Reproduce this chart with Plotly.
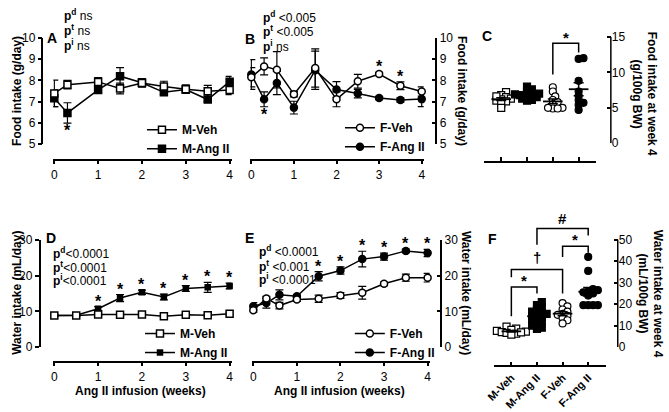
import numpy as np
import plotly.graph_objects as go

# ---------------- data ----------------
weeks_A = [0, 0.3, 1, 1.5, 2, 2.5, 3, 3.5, 4]
food_m_veh = [7.39, 7.80, 7.93, 7.62, 7.88, 7.71, 7.59, 7.49, 7.55]
food_m_veh_sem = [0.62, 0.20, 0.20, 0.25, 0.20, 0.25, 0.20, 0.28, 0.22]
food_m_ang = [7.16, 6.47, 7.55, 8.20, 7.89, 7.44, 7.57, 7.10, 7.94]
food_m_ang_sem = [0.40, 0.48, 0.10, 0.40, 0.15, 0.10, 0.10, 0.10, 0.25]

weeks_B = [0, 0.3, 0.6, 1, 1.5, 2, 2.5, 3, 3.5, 4]
food_f_veh = [8.15, 8.66, 8.50, 7.35, 8.58, 7.11, 7.96, 8.30, 7.75, 7.48]
food_f_veh_sem = [0.45, 0.40, 0.85, 0.12, 0.90, 0.35, 0.32, 0.08, 0.18, 0.22]
food_f_ang = [8.28, 7.11, 7.88, 6.72, 8.48, 7.57, 7.38, 7.17, 7.08, 7.12]
food_f_ang_sem = [0.70, 0.35, 0.55, 0.30, 0.90, 0.37, 0.20, 0.08, 0.10, 0.35]

groups = ["M-Veh", "M-Ang II", "F-Veh", "F-Ang II"]
food_w4_m_veh = [7.2, 6.8, 6.5, 6.3, 6.2, 6.0, 5.9, 5.6, 5.0, 6.6]
food_w4_m_ang = [8.0, 7.6, 7.3, 7.0, 6.8, 6.6, 6.5, 6.3, 6.1, 6.0, 6.7, 6.9]
food_w4_f_veh = [7.9, 7.3, 6.6, 6.1, 5.8, 5.5, 5.0, 4.9, 4.9, 5.0]
food_w4_f_ang = [12.0, 11.9, 8.8, 7.3, 6.7, 6.1, 5.7, 5.4, 4.7]

weeks_D = [0, 0.5, 1, 1.5, 2, 2.5, 3, 3.5, 4]
water_m_veh = [8.8, 8.8, 9.1, 9.0, 9.1, 8.6, 9.0, 8.9, 9.3]
water_m_veh_sem = [0.3, 0.3, 0.3, 0.3, 0.3, 0.3, 0.3, 0.3, 0.4]
water_m_ang = [8.8, 8.9, 10.7, 13.7, 15.3, 14.0, 16.4, 16.7, 17.1]
water_m_ang_sem = [0.3, 0.3, 0.6, 1.0, 0.6, 0.8, 0.8, 1.4, 0.8]

weeks_E = [0, 0.3, 0.6, 1, 1.5, 2, 2.5, 3, 3.5, 4]
water_f_veh = [10.3, 13.6, 11.6, 13.3, 13.5, 14.4, 15.2, 17.7, 19.4, 19.4]
water_f_veh_sem = [0.6, 0.6, 0.9, 0.5, 1.0, 0.8, 1.8, 0.5, 1.0, 1.2]
water_f_ang = [11.4, 12.3, 14.6, 14.2, 19.8, 21.4, 24.6, 25.3, 26.9, 26.3]
water_f_ang_sem = [1.0, 1.4, 1.4, 0.3, 1.3, 1.0, 2.2, 1.0, 0.5, 1.0]

water_w4_m_veh = [9.5, 8.6, 8.0, 7.5, 7.0, 6.6, 6.2, 5.8, 7.2, 6.8]
water_w4_m_ang = [21.0, 19.5, 18.5, 17.5, 16.5, 16.0, 15.5, 15.0, 14.5, 14.0,
                  13.0, 12.5, 12.0, 11.0, 10.0, 9.0, 8.5]
water_w4_f_veh = [20.5, 19.0, 17.5, 16.5, 15.5, 15.0, 14.5, 13.5, 12.5, 11.0]
water_w4_f_ang = [42.0, 35.5, 27.0, 26.5, 26.0, 25.5, 25.0, 24.0, 19.5, 19.5, 19.5, 19.5]

week_ticks = [0, 1, 2, 3, 4]
food_ticks = [5, 6, 7, 8, 9, 10]
food_w4_ticks = [0, 5, 10, 15]
water_ticks = [0, 10, 20, 30]
water_w4_ticks = [0, 10, 20, 30, 40, 50]

p_A = [("d", " ns"), ("t", " ns"), ("i", " ns")]
p_B = [("d", " &lt;0.005"), ("t", " &lt;0.005"), ("i", " ns")]
p_D = [("d", "&lt;0.0001"), ("t", "&lt;0.0001"), ("i", "&lt;0.0001")]
p_E = [("d", " &lt;0.0001"), ("t", " &lt;0.001"), ("i", " &lt;0.0001")]

# significance marks: (series, index, side)
stars_A = [("ang", 1, "below")]
stars_B = [("ang", 1, "below"), ("veh", 7, "above"), ("veh", 8, "above")]
stars_D = [("ang", i, "above") for i in range(2, 9)]
stars_E = [("ang", i, "above") for i in range(4, 10)]

# brackets: (left group, right group, top, left end, right end, label, label y)
brackets_C = [(2, 3, 14.1, 9.7, 12.8, "*", 15.4)]
brackets_F = [(0, 1, 28.0, 14.4, 25.0, "*", 32.6),
              (0, 2, 36.1, 32.6, 25.0, "†", 41.7),
              (2, 3, 47.0, 42.0, 44.0, "*", 51.6),
              (1, 3, 55.3, 47.7, 52.0, "#", 59.8)]

# ---------------- layout helpers ----------------
W, H = 669, 412
FONT = "Arial, 'Liberation Sans', Arimo, sans-serif"


def X(px):
    return px / W


def Y(py):
    return 1 - py / H


COMMON = dict(showgrid=False, zeroline=False, showline=True, linecolor="black",
              linewidth=1.5, ticks="outside", ticklen=4, tickwidth=1.5,
              tickcolor="black", tickfont=dict(family=FONT, size=12, color="black"))


def xax(d0, d1, v0, p0, v1, p1, pos, **kw):
    s = (v1 - v0) / (p1 - p0)
    a = dict(COMMON)
    a.update(domain=[X(d0), X(d1)], range=[v0 + (d0 - p0) * s, v0 + (d1 - p0) * s],
             anchor="free", position=Y(pos))
    a.update(kw)
    return a


def yax(dbot, dtop, v0, p0, v1, p1, pos, side="left", **kw):
    s = (v1 - v0) / (p1 - p0)
    a = dict(COMMON)
    a.update(domain=[Y(dbot), Y(dtop)], range=[v0 + (dbot - p0) * s, v0 + (dtop - p0) * s],
             anchor="free", position=X(pos), side=side)
    if side == "right":
        a.update(ticks="inside")
    a.update(kw)
    return a


fig = go.Figure()
annotations = []
shapes = []


def ann(text, x, y, size=12, xanchor="center", yanchor="middle", textangle=0,
        xref="paper", yref="paper", yshift=0):
    annotations.append(dict(text=text, x=x, y=y, xref=xref, yref=yref, showarrow=False,
                            xanchor=xanchor, yanchor=yanchor, textangle=textangle,
                            yshift=yshift, font=dict(family=FONT, size=size, color="black")))


def series(x, y, err, name, symbol, fill, size, ax, legend, rank):
    fig.add_trace(go.Scatter(
        x=x, y=y, mode="lines+markers", name=name, legendrank=rank,
        line=dict(color="black", width=1.5),
        marker=dict(symbol=symbol, size=size, color=fill, line=dict(color="black", width=1.5)),
        error_y=dict(type="data", array=err, color="black", thickness=1.2, width=4),
        xaxis="x" + ax, yaxis="y" + ax, legend=legend, cliponaxis=False))


def stars(lst, xs, veh, veh_e, ang, ang_e, ax):
    for ser, i, side in lst:
        m, e = (veh[i], veh_e[i]) if ser == "veh" else (ang[i], ang_e[i])
        if side == "above":
            ann("<b>*</b>", xs[i], m + e, size=16, yanchor="bottom", xref="x" + ax,
                yref="y" + ax, yshift=-5)
        else:
            ann("<b>*</b>", xs[i], m - e, size=16, yanchor="top", xref="x" + ax,
                yref="y" + ax, yshift=3)


def pvals(lst, x, ys):
    for (sup, val), y in zip(lst, ys):
        ann("<b>p<sup>%s</sup></b>%s" % (sup, val), X(x), Y(y), xanchor="left")


def swarm(vals, ppu_y, ppu_x, diam):
    vals = np.asarray(vals, float)
    order = np.argsort(vals)
    placed = []
    offs = np.zeros(len(vals))
    cand = [0.0]
    for k in range(1, 15):
        cand += [k * diam * 0.35, -k * diam * 0.35]
    for i in order:
        yp = vals[i] * ppu_y
        for c in cand:
            if all((c - a) ** 2 + (yp - b) ** 2 >= (diam * 0.6) ** 2 for a, b in placed):
                break
        placed.append((c, yp))
        offs[i] = c / ppu_x
    return offs


def dots(data_list, ax, ppu_y, ppu_x):
    styles = [("square", "white"), ("square", "black"), ("circle", "white"), ("circle", "black")]
    for gi, (vals, (sym, fill)) in enumerate(zip(data_list, styles)):
        offs = swarm(vals, ppu_y, ppu_x, 7)
        fig.add_trace(go.Scatter(
            x=gi + offs, y=vals, mode="markers", showlegend=False,
            marker=dict(symbol=sym, size=7, color=fill, line=dict(color="black", width=1.2)),
            xaxis="x" + ax, yaxis="y" + ax, cliponaxis=False))
    means = [float(np.mean(v)) for v in data_list]
    sems = [float(np.std(v, ddof=1) / np.sqrt(len(v))) for v in data_list]
    fig.add_trace(go.Scatter(
        x=list(range(len(data_list))), y=means, mode="markers", showlegend=False,
        marker=dict(symbol="line-ew", size=14, line=dict(color="black", width=1.8)),
        error_y=dict(type="data", array=sems, color="black", thickness=1.5, width=5),
        xaxis="x" + ax, yaxis="y" + ax, cliponaxis=False))


def brackets(lst, ax, size=15):
    for g0, g1, top, e0, e1, lab, ly in lst:
        shapes.append(dict(type="path", xref="x" + ax, yref="y" + ax,
                           path="M %g,%g L %g,%g L %g,%g L %g,%g" % (g0, e0, g0, top, g1, top, g1, e1),
                           line=dict(color="black", width=1.5)))
        ann("<b>%s</b>" % lab, (g0 + g1) / 2, ly, size=size, xref="x" + ax, yref="y" + ax,
            yshift=-3 if lab == "*" else 0)


def vline_axis(xpx, ax, ticks):
    shapes.append(dict(type="line", xref="paper", yref="y" + ax, x0=X(xpx), x1=X(xpx),
                       y0=ticks[0], y1=ticks[-1], line=dict(color="black", width=1.5)))


# ---------------- panel A ----------------
series(weeks_A, food_m_ang, food_m_ang_sem, "M-Ang II", "square", "black", 7, "", "legend", 2)
series(weeks_A, food_m_veh, food_m_veh_sem, "M-Veh", "square", "white", 7, "", "legend", 1)
stars(stars_A, weeks_A, food_m_veh, food_m_veh_sem, food_m_ang, food_m_ang_sem, "")

# ---------------- panel B ----------------
series(weeks_B, food_f_ang, food_f_ang_sem, "F-Ang II", "circle", "black", 7, "2", "legend2", 2)
series(weeks_B, food_f_veh, food_f_veh_sem, "F-Veh", "circle", "white", 7, "2", "legend2", 1)
stars(stars_B, weeks_B, food_f_veh, food_f_veh_sem, food_f_ang, food_f_ang_sem, "2")

# ---------------- panel C ----------------
dots([food_w4_m_veh, food_w4_m_ang, food_w4_f_veh, food_w4_f_ang], "3", 110 / 15, 26.2)
brackets(brackets_C, "3")
vline_axis(612, "3", food_w4_ticks)

# ---------------- panel D ----------------
series(weeks_D, water_m_ang, water_m_ang_sem, "M-Ang II", "square", "black", 5, "4", "legend3", 2)
series(weeks_D, water_m_veh, water_m_veh_sem, "M-Veh", "square", "white", 7, "4", "legend3", 1)
stars(stars_D, weeks_D, water_m_veh, water_m_veh_sem, water_m_ang, water_m_ang_sem, "4")

# ---------------- panel E ----------------
series(weeks_E, water_f_ang, water_f_ang_sem, "F-Ang II", "circle", "black", 7, "5", "legend4", 2)
series(weeks_E, water_f_veh, water_f_veh_sem, "F-Veh", "circle", "white", 7, "5", "legend4", 1)
stars(stars_E, weeks_E, water_f_veh, water_f_veh_sem, water_f_ang, water_f_ang_sem, "5")

# ---------------- panel F ----------------
dots([water_w4_m_veh, water_w4_m_ang, water_w4_f_veh, water_w4_f_ang], "6", 111 / 50, 26.0)
brackets(brackets_F, "6")
vline_axis(619, "6", water_w4_ticks)

# ---------------- texts ----------------
for lab, x, y in [("A", 45, 32), ("B", 246, 33), ("C", 486, 30),
                  ("D", 44, 239), ("E", 245, 239), ("F", 492, 240)]:
    ann("<b>%s</b>" % lab, X(x), Y(y), size=14)

pvals(p_A, 55, [8, 24, 39])
pvals(p_B, 257, [10, 25, 40])
pvals(p_D, 44, [255, 269, 283])
pvals(p_E, 253, [253, 268, 282])

ann("<b>Food intake (g/day)</b>", X(9), Y(87), textangle=-90)
ann("<b>Food intake (g/day)</b>", X(461), Y(87), textangle=90)
ann("<b>Food intake at week 4</b>", X(654), Y(90), textangle=90)
ann("<b>(g/100g BW)</b>", X(639), Y(90), textangle=90)
ann("<b>Water intake (mL/day)</b>", X(9), Y(296), textangle=-90)
ann("<b>Water intake (mL/day)</b>", X(465), Y(296), textangle=90)
ann("<b>Water intake at week 4</b>", X(660), Y(297), textangle=90)
ann("<b>(mL/100g BW)</b>", X(645), Y(297), textangle=90)
ann("<b>Ang II infusion (weeks)</b>", X(135), Y(398))
ann("<b>Ang II infusion (weeks)</b>", X(337), Y(398))

# ---------------- axes ----------------
layout = dict(
    width=W, height=412, margin=dict(l=0, r=0, t=0, b=0),
    paper_bgcolor="white", plot_bgcolor="rgba(0,0,0,0)",
    font=dict(family=FONT, size=12, color="black"),
    annotations=annotations, shapes=shapes,
    xaxis=xax(46, 227, 0, 47, 4, 225, 158, tickvals=week_ticks),
    yaxis=yax(142, 32, 5, 142, 10, 32, 35, tickvals=food_ticks),
    xaxis2=xax(246, 422, 0, 247, 4, 420, 158, tickvals=week_ticks),
    yaxis2=yax(142, 32, 5, 142, 10, 32, 435, side="right", tickvals=food_ticks),
    xaxis3=xax(483, 597, 0, 500.7, 3, 579.3, 160, tickvals=[0, 1, 2, 3],
               showticklabels=False, ticks="inside"),
    yaxis3=yax(141, 14, 0, 141, 15, 31, 612, side="right", tickvals=food_w4_ticks,
               showline=False),
    xaxis4=xax(46, 227, 0, 47, 4, 225, 367, tickvals=week_ticks),
    yaxis4=yax(352, 241, 0, 352, 30, 241, 32, tickvals=water_ticks),
    xaxis5=xax(248, 428, 0, 249, 4, 426, 367, tickvals=week_ticks),
    yaxis5=yax(352, 241, 0, 352, 30, 241, 440, side="right", tickvals=water_ticks),
    xaxis6=xax(493, 607, 0, 511, 3, 589, 372, tickvals=[0, 1, 2, 3], ticktext=groups,
               ticks="inside", tickangle=-45,
               tickfont=dict(family=FONT, size=11, color="black", weight="bold")),
    yaxis6=yax(352, 212, 0, 352, 50, 241, 619, side="right", tickvals=water_w4_ticks,
               showline=False),
)

leg = dict(bgcolor="rgba(0,0,0,0)", borderwidth=0, xanchor="left", yanchor="top",
           itemwidth=30, tracegroupgap=0,
           font=dict(family=FONT, size=12, color="black", weight="bold"))
layout["legend"] = dict(leg, x=X(136), y=Y(112))
layout["legend2"] = dict(leg, x=X(337), y=Y(110))
layout["legend3"] = dict(leg, x=X(134), y=Y(323))
layout["legend4"] = dict(leg, x=X(347), y=Y(323))

fig.update_layout(**layout)
fig.write_html("out.html")
